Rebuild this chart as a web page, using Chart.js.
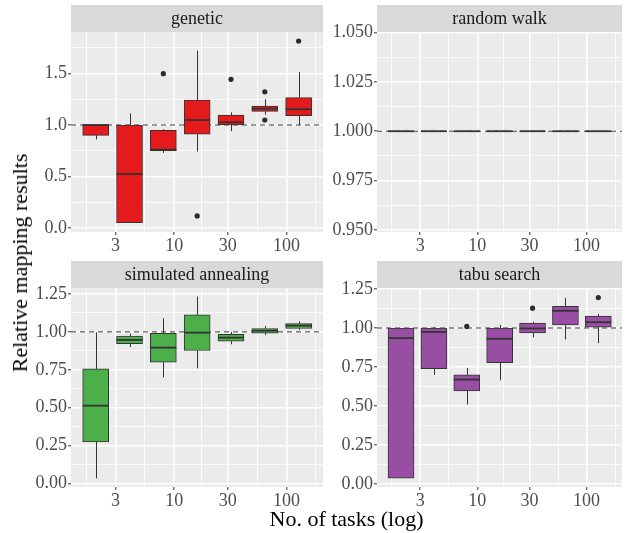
<!DOCTYPE html>
<html>
<head>
<meta charset="utf-8">
<script src="https://cdn.jsdelivr.net/npm/chart.js@4/dist/chart.umd.min.js"></script>
<style>
  body { margin: 0; background: #fff; }
  #wrap { position: relative; width: 626px; height: 533px; overflow: hidden; }
  #wrap canvas { position: absolute; }
  .axis-title { position: absolute; font-family: 'Liberation Serif', 'DejaVu Serif', serif; font-size: 22px; line-height: 1; color: #000; white-space: nowrap; }
  #ytitle { left: 20px; top: 263px; transform: translate(-50%, -50%) rotate(-90deg); }
  #xtitle { left: 71px; width: 551px; top: 508px; text-align: center; }
</style>
</head>
<body>
<div id="wrap">
  <canvas id="genetic" width="310" height="255"></canvas>
  <canvas id="randomwalk" width="300" height="255"></canvas>
  <canvas id="annealing" width="310" height="255"></canvas>
  <canvas id="tabu" width="300" height="255"></canvas>
  <div class="axis-title" id="ytitle">Relative mapping results</div>
  <div class="axis-title" id="xtitle">No. of tasks (log)</div>
</div>
<script>
// x positions (number of tasks)
const TASKS = [2, 4, 8, 16, 32, 64, 128];
const X_MAJOR = [3, 10, 30, 100];
const REF_VALUE = 1;

// genetic
const GEN_LOW  = [0.86, 0.055, 0.73, 0.742, 0.94, 1.10, 1.00];
const GEN_Q1   = [0.90, 0.055, 0.752, 0.91, 1.00, 1.132, 1.09];
const GEN_MED  = [1.00, 0.526, 0.76, 1.048, 1.026, 1.158, 1.153];
const GEN_Q3   = [1.00, 1.00, 0.948, 1.242, 1.096, 1.182, 1.264];
const GEN_HIGH = [1.00, 1.112, 0.958, 1.72, 1.122, 1.25, 1.512];
const GEN_OUT_X = [8, 16, 32, 64, 64, 128];
const GEN_OUT_Y = [1.497, 0.12, 1.442, 1.321, 1.048, 1.813];

// random walk
const RW_LOW  = [1, 1, 1, 1, 1, 1, 1];
const RW_Q1   = [1, 1, 1, 1, 1, 1, 1];
const RW_MED  = [1, 1, 1, 1, 1, 1, 1];
const RW_Q3   = [1, 1, 1, 1, 1, 1, 1];
const RW_HIGH = [1, 1, 1, 1, 1, 1, 1];

// simulated annealing
const SA_LOW  = [0.035, 0.90, 0.70, 0.76, 0.918, 0.978, 1.013];
const SA_Q1   = [0.275, 0.923, 0.80, 0.877, 0.938, 0.991, 1.022];
const SA_MED  = [0.514, 0.947, 0.896, 0.995, 0.962, 1.008, 1.041];
const SA_Q3   = [0.756, 0.973, 0.991, 1.112, 0.984, 1.022, 1.054];
const SA_HIGH = [0.997, 0.989, 1.09, 1.232, 1.00, 1.039, 1.07];

// tabu search
const TS_LOW  = [0.038, 0.70, 0.51, 0.665, 0.94, 0.927, 0.903];
const TS_Q1   = [0.038, 0.74, 0.597, 0.778, 0.969, 1.02, 1.006];
const TS_MED  = [0.935, 0.975, 0.67, 0.931, 0.997, 1.11, 1.037];
const TS_Q3   = [1.00, 1.00, 0.70, 1.00, 1.031, 1.139, 1.076];
const TS_HIGH = [1.00, 1.005, 0.744, 1.02, 1.04, 1.193, 1.09];
const TS_OUT_X = [8, 32, 128];
const TS_OUT_Y = [1.01, 1.127, 1.195];

const FONT = "'Liberation Serif', 'DejaVu Serif', serif";
Chart.defaults.font.family = FONT;

// ggplot style minor breaks: midpoints (in log space) between major breaks
function logMinors(majors) {
  const l = majors.map(Math.log10);
  const out = [l[0] - (l[1] - l[0]) / 2];
  for (let i = 0; i < l.length - 1; i++) out.push((l[i] + l[i + 1]) / 2);
  out.push(l[l.length - 1] + (l[l.length - 1] - l[l.length - 2]) / 2);
  return out.map(v => Math.pow(10, v));
}
const X_GRID = [...X_MAJOR, ...logMinors(X_MAJOR)].sort((a, b) => a - b);
const X_MIN = Math.pow(2, 0.27);
const X_MAX = Math.pow(2, 7.72);

const boxplotPlugin = {
  id: 'boxplot',
  beforeDraw(chart) {
    const { ctx, chartArea: a } = chart;
    const tb = chart.titleBlock;
    ctx.save();
    ctx.fillStyle = '#d9d9d9';
    ctx.fillRect(a.left, tb.top, a.right - a.left, tb.height);
    ctx.fillStyle = '#ebebeb';
    ctx.fillRect(a.left, a.top, a.right - a.left, a.bottom - a.top);
    ctx.restore();
  },
  beforeDatasetsDraw(chart) {
    const { ctx, chartArea: a } = chart;
    const y = chart.scales.y;
    ctx.save();
    // dashed reference line at 1
    const yr = y.getPixelForValue(REF_VALUE);
    ctx.strokeStyle = '#3a3a3a';
    ctx.lineWidth = 1;
    ctx.setLineDash([5, 4]);
    ctx.beginPath();
    ctx.moveTo(a.left, yr);
    ctx.lineTo(a.right, yr);
    ctx.stroke();
    ctx.setLineDash([]);
    // whiskers
    ctx.strokeStyle = '#333333';
    ctx.lineWidth = 1;
    chart.data.datasets.forEach((ds, di) => {
      if (!ds.stats) return;
      chart.getDatasetMeta(di).data.forEach((bar, i) => {
        const [q1, q3] = ds.data[i].y;
        const bx = Math.round(bar.x) + 0.5;
        ctx.beginPath();
        ctx.moveTo(bx, y.getPixelForValue(ds.stats.lo[i]));
        ctx.lineTo(bx, y.getPixelForValue(q1));
        ctx.moveTo(bx, y.getPixelForValue(q3));
        ctx.lineTo(bx, y.getPixelForValue(ds.stats.hi[i]));
        ctx.stroke();
      });
    });
    ctx.restore();
  },
  afterDatasetsDraw(chart) {
    const { ctx } = chart;
    const y = chart.scales.y;
    ctx.save();
    ctx.strokeStyle = '#333333';
    ctx.lineWidth = 1.8;
    chart.data.datasets.forEach((ds, di) => {
      if (!ds.stats) return;
      chart.getDatasetMeta(di).data.forEach((bar, i) => {
        const ym = y.getPixelForValue(ds.stats.med[i]);
        ctx.beginPath();
        ctx.moveTo(bar.x - bar.width / 2, ym);
        ctx.lineTo(bar.x + bar.width / 2, ym);
        ctx.stroke();
      });
    });
    ctx.restore();
  }
};

function makePanel(id, pos, name, color, st, outX, outY, yMin, yMax, yMajor, yMinor, digits) {
  const canvas = document.getElementById(id);
  canvas.style.left = pos.left + 'px';
  canvas.style.top = pos.top + 'px';
  const isMajorY = v => yMajor.some(m => Math.abs(m - v) < 1e-9);
  const isMajorX = v => X_MAJOR.some(m => Math.abs(m - v) < 1e-9);
  const yTicks = [...yMajor, ...yMinor].filter(v => v >= yMin && v <= yMax).sort((a, b) => a - b);

  const datasets = [{
    type: 'bar',
    data: TASKS.map((t, i) => ({ x: t, y: [st.q1[i], st.q3[i]] })),
    stats: { lo: st.lo, med: st.med, hi: st.hi },
    backgroundColor: color,
    borderColor: '#333333',
    borderWidth: 1,
    borderSkipped: false,
    barThickness: 26,
    order: 2
  }];
  if (outX) {
    datasets.push({
      type: 'scatter',
      data: outX.map((x, i) => ({ x, y: outY[i] })),
      pointRadius: 2.6,
      pointBackgroundColor: '#2b2b2b',
      pointBorderWidth: 0,
      order: 1
    });
  }

  return new Chart(canvas, {
    type: 'bar',
    data: { datasets },
    plugins: [boxplotPlugin],
    options: {
      responsive: false,
      animation: false,
      layout: { padding: { top: pos.stripTop - pos.top, right: pos.left + canvas.width - pos.plotR, left: 0, bottom: 0 } },
      plugins: {
        legend: { display: false },
        tooltip: { enabled: false },
        title: {
          display: true,
          text: name,
          fullSize: false,
          color: '#1a1a1a',
          font: { size: 18, weight: 'normal', lineHeight: 1.2 },
          padding: { top: 3, bottom: 2.4 }
        }
      },
      scales: {
        x: {
          type: 'logarithmic',
          min: X_MIN,
          max: X_MAX,
          offset: false,
          border: { display: false },
          afterBuildTicks: s => { s.ticks = X_GRID.map(v => ({ value: v })); },
          afterFit: s => { s.height = pos.top + canvas.height - pos.plotB; },
          grid: {
            offset: false,
            color: '#ffffff',
            lineWidth: c => isMajorX(c.tick.value) ? 1.6 : 0.8,
            tickColor: c => isMajorX(c.tick.value) ? '#333333' : 'rgba(0,0,0,0)',
            tickWidth: 1,
            tickLength: 3
          },
          ticks: {
            autoSkip: false,
            maxRotation: 0,
            padding: 0,
            color: '#4d4d4d',
            font: { size: 18 },
            callback: v => isMajorX(v) ? String(v) : ''
          }
        },
        y: {
          type: 'linear',
          min: yMin,
          max: yMax,
          border: { display: false },
          afterBuildTicks: s => { s.ticks = yTicks.map(v => ({ value: v })); },
          afterFit: s => { s.width = pos.plotL - pos.left; },
          grid: {
            color: '#ffffff',
            lineWidth: c => isMajorY(c.tick.value) ? 1.6 : 0.8,
            tickColor: c => isMajorY(c.tick.value) ? '#333333' : 'rgba(0,0,0,0)',
            tickWidth: 1,
            tickLength: 3
          },
          ticks: {
            autoSkip: false,
            padding: 1,
            color: '#4d4d4d',
            font: { size: 18 },
            callback: v => isMajorY(v) ? v.toFixed(digits) : ''
          }
        }
      }
    }
  });
}

const Y_MAJOR_GEN = [0, 0.5, 1.0, 1.5];
const Y_MINOR_GEN = [0.25, 0.75, 1.25, 1.75];
const Y_MAJOR_RW = [0.95, 0.975, 1.0, 1.025, 1.05];
const Y_MINOR_RW = [0.9625, 0.9875, 1.0125, 1.0375];
const Y_MAJOR_Q = [0, 0.25, 0.5, 0.75, 1.0, 1.25];
const Y_MINOR_Q = [0.125, 0.375, 0.625, 0.875, 1.125];

makePanel('genetic',
  { left: 20, top: 0, stripTop: 5, plotL: 71, plotR: 323, plotB: 232 },
  'genetic', '#e41a1c',
  { lo: GEN_LOW, q1: GEN_Q1, med: GEN_MED, q3: GEN_Q3, hi: GEN_HIGH },
  GEN_OUT_X, GEN_OUT_Y, -0.036, 1.90, Y_MAJOR_GEN, Y_MINOR_GEN, 1);

makePanel('randomwalk',
  { left: 326, top: 0, stripTop: 5, plotL: 377, plotR: 622, plotB: 232 },
  'random walk', '#377eb8',
  { lo: RW_LOW, q1: RW_Q1, med: RW_MED, q3: RW_Q3, hi: RW_HIGH },
  null, null, 0.949, 1.0502, Y_MAJOR_RW, Y_MINOR_RW, 3);

makePanel('annealing',
  { left: 20, top: 255, stripTop: 261, plotL: 71, plotR: 323, plotB: 487 },
  'simulated annealing', '#4daf4a',
  { lo: SA_LOW, q1: SA_Q1, med: SA_MED, q3: SA_Q3, hi: SA_HIGH },
  null, null, -0.022, 1.289, Y_MAJOR_Q, Y_MINOR_Q, 2);

makePanel('tabu',
  { left: 326, top: 255, stripTop: 261, plotL: 377, plotR: 622, plotB: 487 },
  'tabu search', '#984ea3',
  { lo: TS_LOW, q1: TS_Q1, med: TS_MED, q3: TS_Q3, hi: TS_HIGH },
  TS_OUT_X, TS_OUT_Y, -0.018, 1.256, Y_MAJOR_Q, Y_MINOR_Q, 2);
</script>
</body>
</html>
